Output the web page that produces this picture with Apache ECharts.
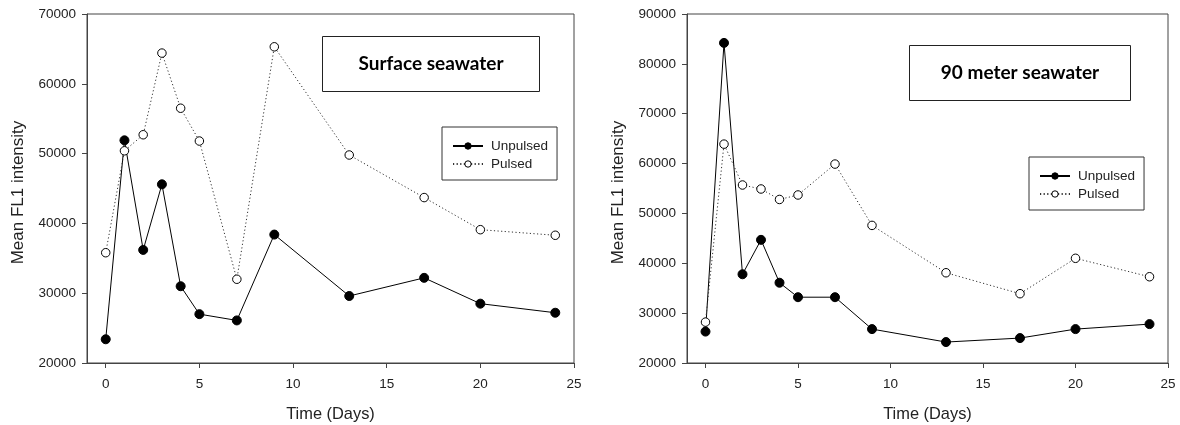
<!DOCTYPE html>
<html>
<head>
<meta charset="utf-8">
<script src="https://cdn.jsdelivr.net/npm/echarts@6/dist/echarts.min.js"></script>
<style>
  html, body { margin: 0; padding: 0; background: #fff; }
  #chart { width: 1180px; height: 425px; }
</style>
</head>
<body>
<div id="chart"></div>
<script>
// Sampling days
const days = [0, 1, 2, 3, 4, 5, 7, 9, 13, 17, 20, 24];

// Surface seawater, mean FL1 intensity
const surfaceUnpulsed = [23400, 51900, 36200, 45600, 31000, 27000, 26100, 38400, 29600, 32200, 28500, 27200];
const surfacePulsed   = [35800, 50400, 52700, 64400, 56500, 51800, 32000, 65300, 49800, 43700, 39100, 38300];

// 90 meter seawater, mean FL1 intensity
const deepUnpulsed = [26300, 84200, 37800, 44700, 36100, 33200, 33200, 26800, 24200, 25000, 26800, 27800];
const deepPulsed   = [28200, 63900, 55700, 54900, 52800, 53700, 59900, 47600, 38100, 33900, 41000, 37300];

// Axis tick values
const xTicks = [0, 5, 10, 15, 20, 25];
const panelTitles = ['Surface seawater', '90 meter seawater'];
const seriesNames = ['Unpulsed', 'Pulsed'];

const FONT = 'Liberation Sans, Arial, sans-serif';
const AXIS_COLOR = '#444';
const TEXT_COLOR = '#222';

const pairs = vals => days.map((d, i) => [d, vals[i]]);

function xAxisFor(gridIndex) {
  return {
    type: 'value', gridIndex, min: -1, max: 25,
    name: 'Time (Days)', nameLocation: 'middle', nameGap: 43,
    nameTextStyle: { fontFamily: FONT, fontSize: 16.4, color: TEXT_COLOR },
    axisLine: { show: true, onZero: false, lineStyle: { color: AXIS_COLOR, width: 1 } },
    axisTick: { show: true, length: 5, customValues: xTicks, lineStyle: { color: AXIS_COLOR } },
    axisLabel: { customValues: xTicks, fontFamily: FONT, fontSize: 13.5, color: TEXT_COLOR, margin: 14,
                 formatter: v => String(v) },
    splitLine: { show: false }
  };
}

function yAxisFor(gridIndex, max) {
  return {
    type: 'value', gridIndex, min: 20000, max, interval: 10000,
    name: 'Mean FL1 intensity', nameLocation: 'middle', nameGap: 60, nameRotate: 90,
    nameTextStyle: { fontFamily: FONT, fontSize: 17, color: TEXT_COLOR, padding: [0, 8, 0, 0] },
    axisLine: { show: true, onZero: false, lineStyle: { color: AXIS_COLOR, width: 1 } },
    axisTick: { show: true, length: 5, lineStyle: { color: AXIS_COLOR } },
    axisLabel: { fontFamily: FONT, fontSize: 13.5, color: TEXT_COLOR, margin: 11,
                 formatter: v => String(v) },
    splitLine: { show: false }
  };
}

function unpulsedSeries(idx, vals) {
  return {
    name: seriesNames[0], type: 'line', xAxisIndex: idx, yAxisIndex: idx,
    data: pairs(vals), symbol: 'circle', symbolSize: 9,
    lineStyle: { color: '#000', width: 1, type: 'solid' },
    itemStyle: { color: '#000', borderColor: '#000', borderWidth: 1 }
  };
}

function pulsedSeries(idx, vals) {
  return {
    name: seriesNames[1], type: 'line', xAxisIndex: idx, yAxisIndex: idx,
    data: pairs(vals), symbol: 'circle', symbolSize: 8.5,
    lineStyle: { color: '#333', width: 1, type: [1.2, 2.4] },
    itemStyle: { color: '#fff', borderColor: '#000', borderWidth: 1 }
  };
}

function legendAt(left, top) {
  return {
    data: seriesNames, orient: 'vertical', left, top,
    backgroundColor: '#fff',
    borderColor: '#333', borderWidth: 1, borderRadius: 0,
    padding: [11, 9, 8, 10], itemGap: 2,
    itemWidth: 30, itemHeight: 8,
    itemStyle: { borderWidth: 1 },
    textStyle: { fontFamily: FONT, fontSize: 13.5, color: TEXT_COLOR, lineHeight: 16, padding: [0, 0, 0, 3] },
    selectedMode: false
  };
}

function titleBox(x, y, w, h, text) {
  return {
    type: 'group', left: x, top: y,
    children: [
      { type: 'rect', shape: { x: 0, y: 0, width: w, height: h },
        style: { fill: '#fff', stroke: '#222', lineWidth: 1 } },
      { type: 'text', x: w / 2, y: h / 2,
        style: { text, fontFamily: 'Lato, "Open Sans", sans-serif', fontWeight: 'bold', fontSize: 19,
                 fill: '#000', align: 'center', verticalAlign: 'middle' } }
    ]
  };
}

const chart = echarts.init(document.getElementById('chart'), null, { renderer: 'canvas' });
chart.setOption({
  animation: false,
  backgroundColor: '#fff',
  grid: [
    { left: 87, top: 14, width: 487, height: 349, outerBoundsMode: 'none', containLabel: false,
      show: true, borderColor: AXIS_COLOR, borderWidth: 1, backgroundColor: 'transparent' },
    { left: 687, top: 14, width: 481, height: 349, outerBoundsMode: 'none', containLabel: false,
      show: true, borderColor: AXIS_COLOR, borderWidth: 1, backgroundColor: 'transparent' }
  ],
  xAxis: [xAxisFor(0), xAxisFor(1)],
  yAxis: [yAxisFor(0, 70000), yAxisFor(1, 90000)],
  legend: [legendAt(442, 127), legendAt(1029, 157)],
  graphic: [
    titleBox(322, 36, 217, 55, panelTitles[0]),
    titleBox(909, 45, 221, 55, panelTitles[1])
  ],
  series: [
    unpulsedSeries(0, surfaceUnpulsed),
    pulsedSeries(0, surfacePulsed),
    unpulsedSeries(1, deepUnpulsed),
    pulsedSeries(1, deepPulsed)
  ]
});
</script>
</body>
</html>
